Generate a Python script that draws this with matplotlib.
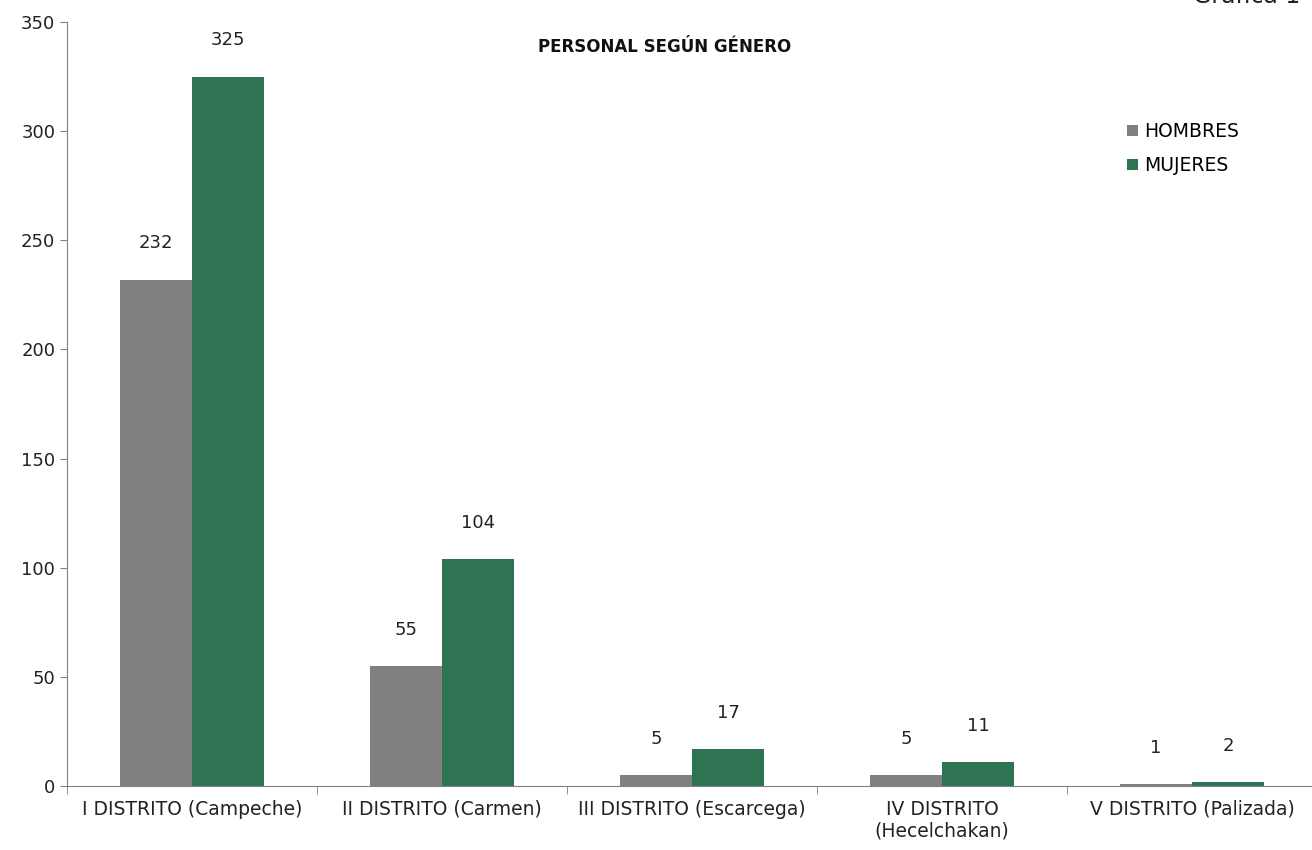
import matplotlib.pyplot as plt
import numpy as np

categorias = ["I DISTRITO (Campeche)", "II DISTRITO (Carmen)", "III DISTRITO (Escarcega)",
              "IV DISTRITO\n(Hecelchakan)", "V DISTRITO (Palizada)"]
hombres = [232, 55, 5, 5, 1]
mujeres = [325, 104, 17, 11, 2]

plt.rcParams['font.family'] = ['DejaVu Sans']

fig = plt.figure(figsize=(13.12, 8.5), dpi=100)
ax = fig.add_axes([67 / 1312, 64 / 850, 1250 / 1312, 764 / 850])

x = np.arange(len(categorias))
w = 0.288
b1 = ax.bar(x - w / 2, hombres, w, color="#808080", label="HOMBRES")
b2 = ax.bar(x + w / 2, mujeres, w, color="#2E7452", label="MUJERES")

for bars in (b1, b2):
    for r in bars:
        ax.annotate(f"{int(r.get_height())}", (r.get_x() + r.get_width() / 2, r.get_height()),
                    xytext=(0, 26), textcoords="offset points", ha="center", va="center",
                    fontsize=13, color="#222222")

ax.set_xlim(-0.5, len(categorias) - 0.5)
ax.set_ylim(0, 350)
ax.set_yticks(range(0, 351, 50))
ax.tick_params(axis="y", labelsize=13, colors="#222222", length=5, color="#808080")
ax.set_xticks(x)
ax.set_xticklabels(categorias, fontsize=13.5, color="#222222", linespacing=1.15)
ax.tick_params(axis="x", length=0, pad=10)
ax.set_xticks(np.arange(-0.5, len(categorias), 1.0), minor=True)
ax.tick_params(axis="x", which="minor", length=6, color="#808080")

for s in ("top", "right"):
    ax.spines[s].set_visible(False)
for s in ("left", "bottom"):
    ax.spines[s].set_color("#808080")

ax.text(0.478, 0.967, "PERSONAL SEGÚN GÉNERO", transform=ax.transAxes, ha="center",
        va="center", fontsize=12, fontweight="bold", color="#111111")

ax.legend(loc="upper left", bbox_to_anchor=(0.848, 0.869), frameon=False, fontsize=13.5,
          handlelength=0.6, handleheight=0.6, handletextpad=0.3, labelspacing=0.8,
          borderpad=0, borderaxespad=0)

fig.text(1193 / 1312, 1 - 3 / 850, "Gráfica 1", ha="left", va="baseline", fontsize=17,
         color="#222222")

fig.savefig("out.png", dpi=100)
